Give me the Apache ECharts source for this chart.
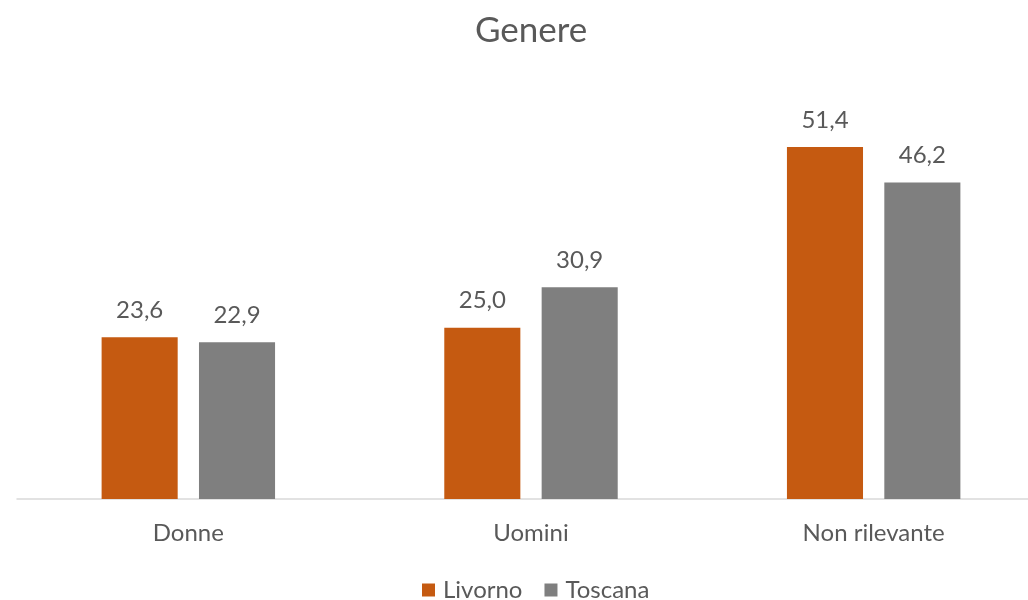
<!DOCTYPE html>
<html>
<head>
<meta charset="utf-8">
<script src="https://cdn.jsdelivr.net/npm/echarts@6/dist/echarts.min.js"></script>
<style>
  html, body { margin: 0; padding: 0; background: #fff; }
  #chart { width: 1028px; height: 600px; }
</style>
</head>
<body>
<div id="chart"></div>
<script>
  // dati
  const categories = ['Donne', 'Uomini', 'Non rilevante'];
  const livorno = [23.6, 25.0, 51.4];
  const toscana = [22.9, 30.9, 46.2];

  const font = 'Lato, "Open Sans", sans-serif';
  const chart = echarts.init(document.getElementById('chart'));

  const labelOpt = {
    show: true,
    position: 'top',
    distance: 15,
    color: '#595959',
    fontSize: 24,
    fontFamily: font,
    formatter: p => p.value.toFixed(1).replace('.', ',')
  };

  chart.setOption({
    animation: false,
    title: {
      text: 'Genere',
      left: 470,
      top: 8,
      textStyle: { color: '#595959', fontSize: 35, fontWeight: 'normal', fontFamily: font }
    },
    legend: {
      top: 573,
      left: 417,
      itemWidth: 13,
      itemHeight: 13,
      itemGap: 22,
      icon: 'rect',
      textStyle: { color: '#595959', fontSize: 24, fontFamily: font, padding: [0, 0, 0, 3] }
    },
    // l'area del grafico originale sborda a destra
    grid: {
      left: 17, right: -17, top: 88, bottom: 101,
      containLabel: false,
      outerBoundsMode: 'none'
    },
    xAxis: {
      type: 'category',
      data: categories,
      axisLine: { lineStyle: { color: '#D9D9D9', width: 1.5 } },
      axisTick: { show: false },
      axisLabel: { color: '#595959', fontSize: 24, fontFamily: font, margin: 22 }
    },
    yAxis: {
      type: 'value',
      min: 0,
      max: 60,
      show: false,
      splitLine: { show: false }
    },
    series: [
      {
        name: 'Livorno',
        type: 'bar',
        data: livorno,
        barWidth: '22.2%',
        barGap: '28%',
        itemStyle: { color: '#C55A11' },
        label: labelOpt
      },
      {
        name: 'Toscana',
        type: 'bar',
        data: toscana,
        barWidth: '22.2%',
        itemStyle: { color: '#7F7F7F' },
        label: labelOpt
      }
    ]
  });
</script>
</body>
</html>
